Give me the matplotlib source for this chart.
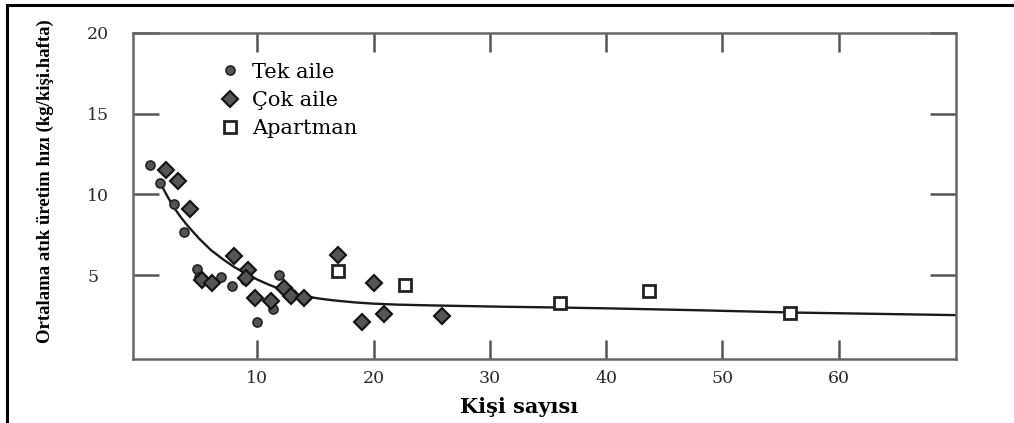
import numpy as np
import matplotlib
matplotlib.use("Agg")
import matplotlib.pyplot as plt
from matplotlib.lines import Line2D

# data
tek_x = [0.8, 1.6, 2.8, 3.7, 4.8, 5.0, 6.9, 7.8, 8.9, 10.0, 11.3, 11.9, 12.6, 13.0]
tek_y = [11.8, 10.7, 9.4, 7.7, 5.4, 4.9, 4.9, 4.3, 4.7, 2.1, 2.9, 5.0, 4.1, 3.8]

cok_x = [2.1, 3.2, 4.2, 5.2, 6.1, 8.0, 9.2, 9.0, 9.8, 11.2, 12.3, 12.9, 14.0,
         16.9, 19.0, 20.0, 20.9, 25.9]
cok_y = [11.5, 10.8, 9.1, 4.7, 4.5, 6.2, 5.3, 4.8, 3.6, 3.4, 4.2, 3.7, 3.6,
         6.25, 2.1, 4.5, 2.6, 2.45]

apt_x = [16.9, 22.7, 36.0, 43.7, 55.8]
apt_y = [5.25, 4.4, 3.25, 4.0, 2.67]

curve_x = [1.8, 2.2, 2.6, 3.0, 3.5, 4.0, 4.5, 5.0, 5.5, 6.0, 7.0, 8.0, 9.0,
           10.0, 11.0, 12.0, 13.0, 14.0, 15.0, 16.0, 17.0, 18.5, 20.0, 22.0,
           25.0, 28.0, 31.0, 35.0, 40.0, 48.0, 56.0, 63.0, 70.0]
curve_y = [10.5, 9.95, 9.45, 9.0, 8.5, 8.05, 7.65, 7.25, 6.9, 6.55, 6.0, 5.5, 5.1,
           4.72, 4.4, 4.12, 3.9, 3.72, 3.58, 3.48, 3.4, 3.3, 3.23, 3.17,
           3.12, 3.08, 3.04, 3.0, 2.94, 2.82, 2.68, 2.6, 2.52]

xticks = [10, 20, 30, 40, 50, 60]
yticks = [5, 10, 15, 20]

fig = plt.figure(figsize=(10.14, 4.23), dpi=100, facecolor='white')
ax = fig.add_axes([0.1312, 0.1513, 0.8116, 0.7707])

ax.plot(curve_x, curve_y, '-', color='#1a1a1a', lw=1.7, zorder=2)
ax.plot(tek_x, tek_y, 'o', ls='none', ms=6.5, mfc='#555555', mec='#222222', mew=1.2,
        label='Tek aile', zorder=3)
ax.plot(cok_x, cok_y, 'D', ls='none', ms=8, mfc='#555555', mec='#111111', mew=1.5,
        label='Çok aile', zorder=3)
ax.plot(apt_x, apt_y, 's', ls='none', ms=9, mfc='white', mec='#222222', mew=2,
        label='Apartman', zorder=3)

ax.set_xlim(-0.7, 70.1)
ax.set_ylim(-0.2, 20)

for sp in ax.spines.values():
    sp.set_color('#666666')
    sp.set_linewidth(1.8)

ax.set_xticks(xticks)
ax.set_yticks(yticks)
ax.tick_params(axis='x', direction='in', length=14, width=1.8, color='#555555',
               top=True, bottom=True, pad=8, labelsize=12.5)
ax.tick_params(axis='y', direction='in', length=19, width=1.8, color='#555555',
               left=True, right=True, pad=33, labelsize=12.5)
for lab in ax.get_xticklabels() + ax.get_yticklabels():
    lab.set_family('DejaVu Serif')
    lab.set_color('#2a2a2a')
for lab in ax.get_yticklabels():
    lab.set_ha('left')

ax.set_xlabel('Kişi sayısı', family='DejaVu Serif', fontweight='bold', fontsize=15, va='center')
ax.xaxis.set_label_coords(0.469, -0.147)
ax.set_ylabel('Ortalama atık üretim hızı (kg/kişi.hafta)', family='Liberation Serif',
              fontweight='bold', fontsize=13.5, va='center')
ax.yaxis.set_label_coords(-0.107, 0.546)

leg = ax.legend(loc='upper left', bbox_to_anchor=(0.095, 0.935), frameon=False,
                prop={'family': 'DejaVu Serif', 'size': 15}, handletextpad=0.55,
                labelspacing=0.45, handlelength=1.0, borderaxespad=0)

# black border at the top and left of the figure
fig.add_artist(Line2D([7 / 1014, 1.0], [1 - 5 / 423, 1 - 5 / 423], color='black', lw=2.2))
fig.add_artist(Line2D([7 / 1014, 7 / 1014], [0.0, 1 - 5 / 423], color='black', lw=2.2))

fig.savefig('out.png', dpi=100, facecolor='white')
